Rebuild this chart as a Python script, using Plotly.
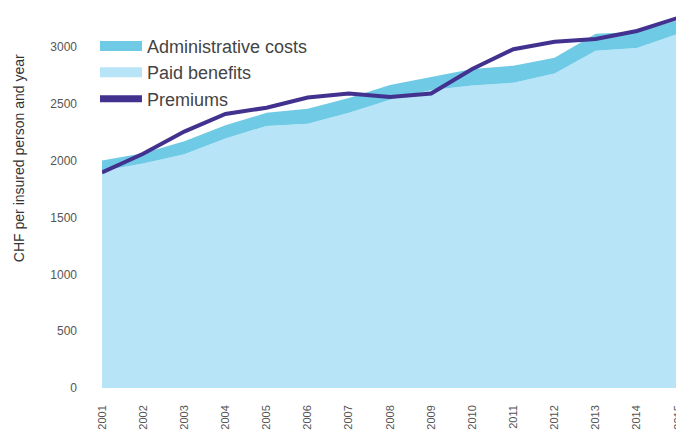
import plotly.graph_objects as go

years = [str(y) for y in range(2001, 2016)]
paid_benefits = [1910, 1975, 2055, 2195, 2305, 2325, 2420, 2535, 2620, 2660, 2685, 2765, 2965, 2990, 3115]
admin_costs = [90, 90, 115, 115, 115, 130, 130, 130, 115, 145, 150, 140, 150, 140, 120]
premiums = [1895, 2060, 2255, 2410, 2465, 2555, 2590, 2560, 2590, 2805, 2980, 3045, 3070, 3140, 3255]
y_ticks = [0, 500, 1000, 1500, 2000, 2500, 3000]

C_ADMIN = "#6fcae6"
C_PAID = "#b8e4f8"
C_PREM = "#42318f"

fig = go.Figure()
# data traces
fig.add_trace(go.Scatter(
    x=years, y=paid_benefits, name="Paid benefits", stackgroup="one",
    mode="none", fillcolor=C_PAID, showlegend=False))
fig.add_trace(go.Scatter(
    x=years, y=admin_costs, name="Administrative costs", stackgroup="one",
    mode="none", fillcolor=C_ADMIN, showlegend=False))
fig.add_trace(go.Scatter(
    x=years, y=premiums, name="Premiums", mode="lines",
    line=dict(color=C_PREM, width=4), showlegend=False))
# legend entries (no marks of their own)
fig.add_trace(go.Scatter(x=[None], y=[None], name="Administrative costs", mode="lines",
                         line=dict(color=C_ADMIN, width=17)))
fig.add_trace(go.Scatter(x=[None], y=[None], name="Paid benefits", mode="lines",
                         line=dict(color=C_PAID, width=17)))
fig.add_trace(go.Scatter(x=[None], y=[None], name="Premiums", mode="lines",
                         line=dict(color=C_PREM, width=7)))

fig.update_layout(
    width=684, height=430,
    margin=dict(l=94, r=14, t=0, b=50, autoexpand=False),
    paper_bgcolor="white", plot_bgcolor="white",
    font=dict(family="Liberation Sans, Arial, sans-serif", color="#444"),
    showlegend=True,
    legend=dict(x=-0.0122, y=0.948, xanchor="left", yanchor="top",
                traceorder="normal",
                font=dict(size=18, color="#444"), itemwidth=42,
                tracegroupgap=0, bgcolor="rgba(0,0,0,0)"),
    xaxis=dict(type="category", range=[0, 14], showgrid=False, zeroline=False,
               showline=False, ticks="", tickangle=-90, ticklabelstandoff=14,
               automargin=False, tickfont=dict(size=11, color="#555")),
    yaxis=dict(range=[0, 3342], tickvals=y_ticks, showgrid=False, zeroline=False,
               showline=False, ticks="", ticklabelstandoff=24, automargin=False,
               tickfont=dict(size=12, color="#555")),
    annotations=[dict(text="CHF per insured person and year", xref="paper", yref="paper",
                      x=-0.144, y=0.605, textangle=-90, showarrow=False,
                      xanchor="center", yanchor="middle",
                      font=dict(size=14, color="#333"))],
)

fig.write_html("out.html")
